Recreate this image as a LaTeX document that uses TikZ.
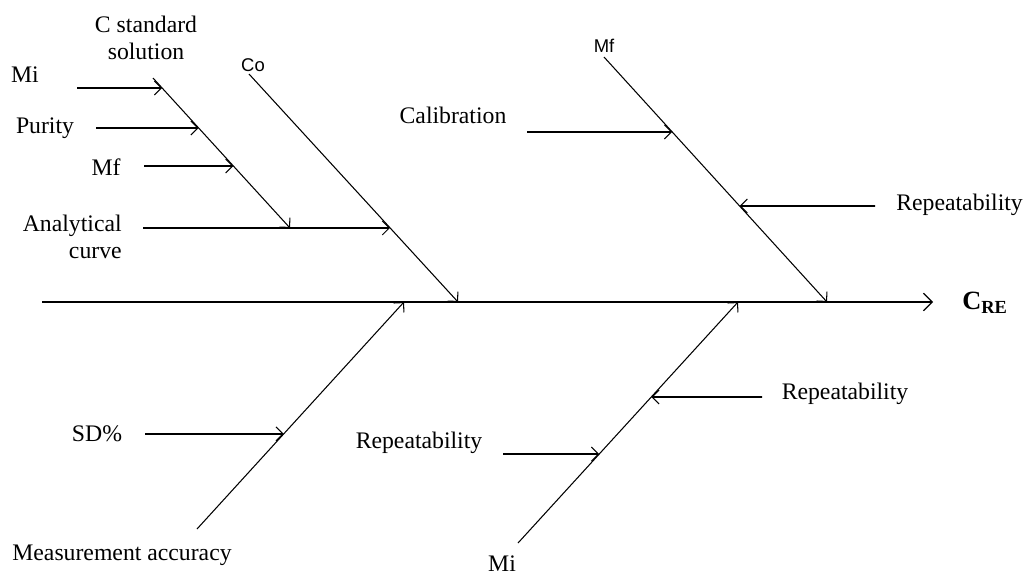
\documentclass[tikz,border=0pt]{standalone}
\usepackage{fontspec}
\setmainfont{Liberation Serif}
\newfontfamily\uisans{Liberation Sans}
\usetikzlibrary{arrows.meta,calc}
\tikzset{
  lbl/.style={inner sep=0pt, font=\fontsize{13.5}{15.3}\selectfont},
  smalllbl/.style={inner sep=0pt, font=\uisans\fontsize{10.5}{12}\selectfont},
  tip/.style={-{Straight Barb[length=4pt,width=8pt,line width=0.6pt]}},
  spine/.style={line width=1.2pt,-{Straight Barb[length=5pt,width=10pt,line width=0.7pt]}},
  bone/.style={line width=0.6pt,tip},
  cause/.style={line width=1pt,tip},
}
\begin{document}
\begin{tikzpicture}[x=0.02cm,y=-0.02cm]
\useasboundingbox (0,0) rectangle (1024,576);
% spine
\coordinate (S0) at (42,302);
\coordinate (S1) at (933,302);
% branch end points
\coordinate (A0) at (153,78);  \coordinate (A1) at (290,228);
\coordinate (B0) at (249,74);  \coordinate (B1) at (458,302);
\coordinate (C0) at (604,57);  \coordinate (C1) at (827,302);
\coordinate (D0) at (197,529); \coordinate (D1) at (404,302);
\coordinate (E0) at (518,543); \coordinate (E1) at (738,302);
% cause arrow starts
\coordinate (mi0) at (77,88);
\coordinate (pu0) at (96,128);
\coordinate (mf0) at (144,166);
\coordinate (an0) at (143,228);
\coordinate (ca0) at (527,132);
\coordinate (re0) at (875,206);
\coordinate (sd0) at (145,434);
\coordinate (rr0) at (762,397);
\coordinate (rl0) at (503,454);
% cause arrow ends on the bones
\coordinate (mi1) at ($(A0)!0.067!(A1)$);
\coordinate (pu1) at ($(A0)!0.333!(A1)$);
\coordinate (mf1) at ($(A0)!0.587!(A1)$);
\coordinate (an1) at ($(B0)!0.675!(B1)$);
\coordinate (ca1) at ($(C0)!0.306!(C1)$);
\coordinate (re1) at ($(C0)!0.608!(C1)$);
\coordinate (sd1) at ($(D0)!0.419!(D1)$);
\coordinate (rr1) at ($(E0)!0.606!(E1)$);
\coordinate (rl1) at ($(E0)!0.369!(E1)$);

% labels
\node[lbl, align=center] (tcs) at (146,38) {C standard\\solution};
\node[lbl] (tmi) at (25,75) {Mi};
\node[lbl] (tpu) at (45,128) {Purity};
\node[lbl] (tmf) at (106,167) {Mf};
\node[lbl, align=right, anchor=east] (tan) at (122,237) {Analytical\\curve};
\node[smalllbl] (tco) at (253,65) {Co};
\node[smalllbl] (tmf2) at (604,46) {Mf};
\node[lbl] (tca) at (453,115) {Calibration};
\node[lbl, anchor=west] (tre) at (896,205) {Repeatability};
\node[lbl, anchor=west, font=\fontsize{15}{17}\selectfont\bfseries] (tcre) at (962,303) {C\textsubscript{RE}};
\node[lbl] (tsd) at (97,434) {SD\%};
\node[lbl] (tma) at (122,555) {Measurement accuracy};
\node[lbl] (trr) at (845,394) {Repeatability};
\node[lbl] (trl) at (419,443) {Repeatability};
\node[lbl] (tmi2) at (502,564) {Mi};

% spine
\draw[spine] (S0) -- (S1);
% bones
\draw[bone] (A0) -- (A1);
\draw[bone] (B0) -- (B1);
\draw[bone] (C0) -- (C1);
\draw[bone] (D0) -- (D1);
\draw[bone] (E0) -- (E1);
% causes
\draw[cause] (mi0) -- (mi1);
\draw[cause] (pu0) -- (pu1);
\draw[cause] (mf0) -- (mf1);
\draw[cause] (an0) -- (an1);
\draw[cause] (ca0) -- (ca1);
\draw[cause] (re0) -- (re1);
\draw[cause] (sd0) -- (sd1);
\draw[cause] (rr0) -- (rr1);
\draw[cause] (rl0) -- (rl1);
\end{tikzpicture}
\end{document}
